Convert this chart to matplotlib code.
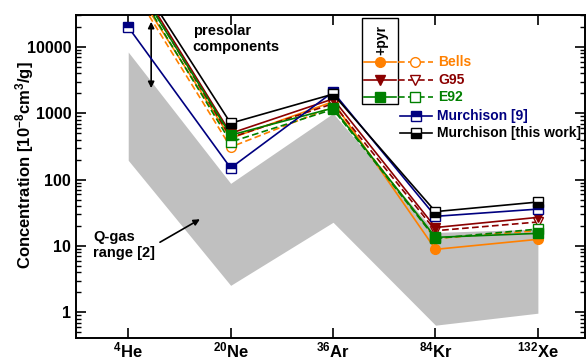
import matplotlib
matplotlib.use("Agg")
import matplotlib.pyplot as plt
import numpy as np
from matplotlib.lines import Line2D
from matplotlib.patches import Rectangle
from matplotlib.ticker import FixedLocator, NullLocator, LogLocator, NullFormatter

plt.rcParams["font.family"] = ["Liberation Sans", "DejaVu Sans"]
plt.rcParams["font.weight"] = "bold"
plt.rcParams["mathtext.fontset"] = "custom"
plt.rcParams["mathtext.rm"] = "Liberation Sans:bold"
plt.rcParams["mathtext.it"] = "Liberation Sans:bold"
plt.rcParams["mathtext.bf"] = "Liberation Sans:bold"

# isotopes on the x axis
masses = ["4", "20", "36", "84", "132"]
elements = ["He", "Ne", "Ar", "Kr", "Xe"]

# Q-gas range [2] (shaded band)
qgas_upper = [8400, 88, 1000, 16, 18]
qgas_lower = [196, 2.55, 22.8, 0.64, 0.97]

# presolar components, +pyr (filled, solid) and without (open, dashed)
bells_pyr = [110000, 420, 1500, 8.9, 12.6]
bells = [95000, 310, 1250, 13, 17]
g95_pyr = [160000, 500, 1650, 19, 27]
g95 = [150000, 430, 1400, 17, 23]
e92_pyr = [140000, 470, 1200, 13.5, 15.5]
e92 = [125000, 370, 1150, 13, 18]

# Murchison bulk
murch9 = [20000, 150, 2100, 28, 36]
murch_tw = [180000, 710, 1950, 33, 46]

ORANGE = "#FF8000"
DRED = "#8B0000"
GREEN = "#008000"
NAVY = "#000080"

W, H = 587, 362
fig = plt.figure(figsize=(W / 100, H / 100), dpi=100)
ax = fig.add_axes([76 / W, 1 - 338 / H, (585 - 76) / W, (338 - 15) / H])

x = np.arange(1, len(elements) + 1)
ax.fill_between(x, qgas_lower, qgas_upper, color="#C0C0C0", lw=0, zorder=1)

dash = (0, (4, 2))
comps = [(bells, bells_pyr, ORANGE, "o"),
         (g95, g95_pyr, DRED, "v"),
         (e92, e92_pyr, GREEN, "s")]
for opn, pyr, col, mk in comps:
    ax.plot(x, opn, ls=dash, color=col, lw=1.2, marker=mk, ms=7,
            mfc="white", mec=col, mew=1.0, zorder=3)
    ax.plot(x, pyr, ls="-", color=col, lw=1.2, marker=mk, ms=7,
            mfc=col, mec=col, zorder=3)

ax.plot(x, murch9, color=NAVY, lw=1.2, marker="s", ms=7, fillstyle="top",
        mfc=NAVY, mfcalt="white", mec=NAVY, zorder=4)
ax.plot(x, murch_tw, color="black", lw=1.2, marker="s", ms=7, fillstyle="bottom",
        mfc="black", mfcalt="white", mec="black", zorder=4)

ax.set_yscale("log")
ax.set_ylim(0.41, 30400)
ax.set_xlim(0.49, 5.46)

ax.xaxis.set_major_locator(FixedLocator(x))
ax.xaxis.set_minor_locator(NullLocator())
ax.set_xticklabels([f"$^{{{m}}}$" + e for m, e in zip(masses, elements)],
                   fontsize=12)
ax.yaxis.set_major_locator(FixedLocator([1, 10, 100, 1000, 10000]))
ax.yaxis.set_minor_locator(LogLocator(base=10, subs=np.arange(2, 10)))
ax.yaxis.set_minor_formatter(NullFormatter())
ax.set_yticklabels(["1", "10", "100", "1000", "10000"], fontsize=11.5)
ax.tick_params(which="both", direction="in", top=True, right=True, width=1.2)
ax.tick_params(which="major", length=7)
ax.tick_params(which="minor", length=3.5, width=1)
ax.tick_params(axis="x", pad=2)
for s in ax.spines.values():
    s.set_linewidth(1.4)

fig.text(25 / W, 1 - 165 / H, "Concentration [10$^{-8}$cm$^{3}$/g]",
         rotation=90, ha="center", va="center", fontsize=12)

# annotations
ax.annotate("", xy=(1.224, 2400), xytext=(1.224, 24000),
            arrowprops=dict(arrowstyle="<|-|>", color="black", lw=1.2,
                            mutation_scale=9, shrinkA=0, shrinkB=0))
ax.text(1.63, 22200, "presolar\ncomponents", ha="left", va="top",
        fontsize=10.5, linespacing=1.15)
ax.annotate("", xy=(1.70, 25.3), xytext=(1.31, 11.4),
            arrowprops=dict(arrowstyle="-|>", color="black", lw=1.2,
                            mutation_scale=9, shrinkA=0, shrinkB=0))
ax.text(0.66, 17.3, "Q-gas\nrange [2]", ha="left", va="top",
        fontsize=10.5, linespacing=1.15)


# hand-built legend (figure pixel coords)
def P(px, py):
    return px / W, 1 - py / H


tf = fig.transFigure
x0, y0 = P(362, 104)
x1, y1 = P(398, 18)
fig.add_artist(Rectangle((x0, y0), x1 - x0, y1 - y0, transform=tf,
                         fill=False, ec="black", lw=1.0))
fig.text(*P(381, 40), "+pyr", rotation=90, ha="center", va="center",
         fontsize=10)
rows = [("Bells", ORANGE, "o", 62), ("G95", DRED, "v", 80), ("E92", GREEN, "s", 97)]
for name, col, mk, py in rows:
    xa, ya = P(364, py)
    xb, _ = P(396, py)
    xm, _ = P(380, py)
    fig.add_artist(Line2D([xa, xb], [ya, ya], transform=tf, color=col, lw=1.2))
    fig.add_artist(Line2D([xm], [ya], transform=tf, color=col, marker=mk,
                          ms=7, mfc=col, mec=col))
    xc, _ = P(398, py)
    xd, _ = P(433, py)
    xo, _ = P(415, py)
    fig.add_artist(Line2D([xc, xd], [ya, ya], transform=tf, color=col, lw=1.2,
                          ls=dash))
    fig.add_artist(Line2D([xo], [ya], transform=tf, color=col, marker=mk,
                          ms=7, mfc="white", mec=col, mew=1.0))
    fig.text(*P(438, py), name, color=col, ha="left", va="center", fontsize=10)

for name, col, fs, py in [("Murchison [9]", NAVY, "top", 116),
                          ("Murchison [this work]", "black", "bottom", 133)]:
    xa, ya = P(400, py)
    xb, _ = P(432, py)
    xm, _ = P(416, py)
    fig.add_artist(Line2D([xa, xb], [ya, ya], transform=tf, color=col, lw=1.2))
    fig.add_artist(Line2D([xm], [ya], transform=tf, color=col, marker="s",
                          ms=7, fillstyle=fs, mfc=col, mfcalt="white", mec=col))
    fig.text(*P(437, py), name, color=col, ha="left", va="center", fontsize=10)

fig.savefig("out.png", dpi=100, facecolor="white")
